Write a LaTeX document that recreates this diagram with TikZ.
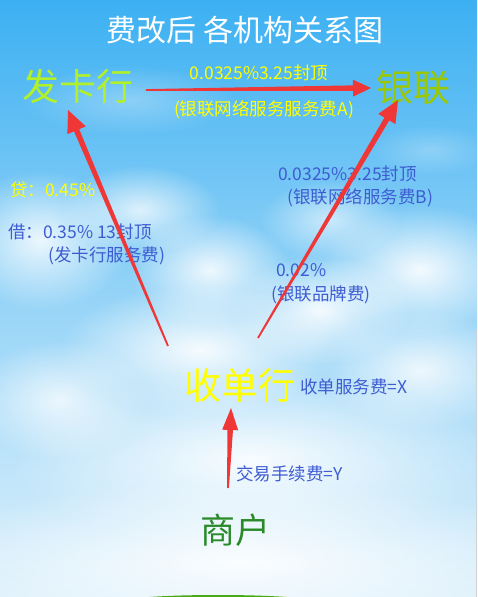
\documentclass[tikz,border=0pt]{standalone}
\usepackage{fontspec}
\setmainfont{Noto Sans CJK SC}
\usetikzlibrary{calc,fadings}
\tikzfading[name=puff, inner color=transparent!0, outer color=transparent!100]
\definecolor{skytop}{RGB}{32,160,238}
\definecolor{skyup}{RGB}{60,176,242}
\definecolor{skymid}{RGB}{150,212,247}
\definecolor{skylow}{RGB}{222,241,252}
\definecolor{skybot}{RGB}{244,250,254}
\pgfdeclareverticalshading{sky}{100bp}{color(0bp)=(skybot); color(25bp)=(skylow); color(50bp)=(skymid); color(75bp)=(skyup); color(100bp)=(skytop)}
\definecolor{arrowred}{RGB}{240,55,55}
\definecolor{issuercol}{RGB}{178,240,40}
\definecolor{cupcol}{RGB}{155,200,0}
\definecolor{yel}{RGB}{255,255,0}
\definecolor{bluetxt}{RGB}{62,92,210}
\definecolor{merch}{RGB}{42,138,42}
\definecolor{grass}{RGB}{70,170,20}
\newcommand\taparrow[4]{% from, to, head length, head half width
  \fill[arrowred] ($(#1)!0.9pt!90:(#2)$) -- ($($(#2)!#3!(#1)$)!2.8pt!-90:(#1)$)
    -- ($($(#2)!#3!(#1)$)!#4!-90:(#1)$) -- (#2)
    -- ($($(#2)!#3!(#1)$)!#4!90:(#1)$) -- ($($(#2)!#3!(#1)$)!2.8pt!90:(#1)$)
    -- ($(#1)!0.9pt!-90:(#2)$) -- cycle;}
\tikzset{
  big/.style={font=\fontsize{37}{40}\selectfont, inner sep=0pt},
  lbl/.style={font=\fontsize{17.5}{20}\selectfont, inner sep=0pt},
  cloud/.style={white, path fading=puff},
}
\begin{document}
\begin{tikzpicture}[x=1pt,y=-1pt]
\useasboundingbox (0,0) rectangle (477,597);
\clip (0,0) rectangle (477,597);
% sky
\shade[shading=sky] (0,0) rectangle (477,597);
% clouds
\fill[cloud, opacity=0.3] (130,100) ellipse (110 and 35);
\fill[cloud, opacity=0.25] (430,150) ellipse (60 and 25);
\fill[cloud, opacity=0.85] (40,240) ellipse (90 and 70);
\fill[cloud, opacity=0.75] (140,210) ellipse (80 and 45);
\fill[cloud, opacity=0.85] (210,270) ellipse (80 and 55);
\fill[cloud, opacity=0.6] (330,220) ellipse (70 and 40);
\fill[cloud, opacity=0.9] (420,270) ellipse (100 and 65);
\fill[cloud, opacity=0.9] (320,310) ellipse (90 and 55);
\fill[cloud, opacity=0.9] (200,350) ellipse (140 and 65);
\fill[cloud, opacity=0.8] (420,370) ellipse (100 and 60);
\fill[cloud, opacity=0.75] (60,400) ellipse (90 and 60);
\fill[cloud, opacity=0.9] (250,460) ellipse (240 and 90);
\fill[cloud, opacity=0.9] (240,560) ellipse (320 and 80);
% ground
\fill[grass] (218,601.5) ellipse (95 and 6.5);
\draw[gray!35] (476.5,330) -- (476.5,597);
% text
\node[font=\fontsize{30}{33}\selectfont, text=white, inner sep=0pt] (title) at (245,30) {费改后 各机构关系图};
\node[big, text=issuercol] (issuer) at (77.5,86) {发卡行};
\node[big, text=cupcol] (cup) at (413.5,88) {银联};
\node[big, text=yel] (acq) at (240,385) {收单行};
\node[font=\fontsize{35}{38}\selectfont, inner sep=0pt, text=merch] (merchant) at (235,530) {商户};
\node[lbl, text=yel] (a1) at (259,73) {0.0325\%3.25封顶};
\node[lbl, text=yel] (a2) at (264,110) {(银联网络服务服务费A)};
\node[lbl, text=yel, anchor=west] (dai) at (10,190) {贷：0.45\%};
\node[lbl, text=bluetxt, anchor=west] (jie) at (8,232) {借：0.35\% 13封顶};
\node[lbl, text=bluetxt, anchor=west] (jie2) at (48,256) {(发卡行服务费)};
\node[lbl, text=bluetxt, anchor=west] (b1) at (278,174) {0.0325\%3.25封顶};
\node[lbl, text=bluetxt, anchor=west] (b2) at (287,198) {(银联网络服务费B)};
\node[lbl, text=bluetxt, anchor=west] (c1) at (276,270) {0.02\%};
\node[lbl, text=bluetxt, anchor=west] (c2) at (271,295) {(银联品牌费)};
\node[lbl, text=bluetxt, anchor=west] (x) at (300,387) {收单服务费=X};
\node[lbl, text=bluetxt, anchor=west] (y) at (236,474) {交易手续费=Y};
% arrow ends
\coordinate (t1) at (146,90);  \coordinate (h1) at (371,88);
\coordinate (t2) at (168,346); \coordinate (h2) at (68,110);
\coordinate (t3) at (258,338); \coordinate (h3) at (398,100);
\coordinate (t4) at (228,488); \coordinate (h4) at (231,408);
\taparrow{t1}{h1}{18pt}{8.5pt}
\taparrow{t2}{h2}{22pt}{10pt}
\taparrow{t3}{h3}{22pt}{10pt}
\taparrow{t4}{h4}{22pt}{8pt}
\end{tikzpicture}
\end{document}
